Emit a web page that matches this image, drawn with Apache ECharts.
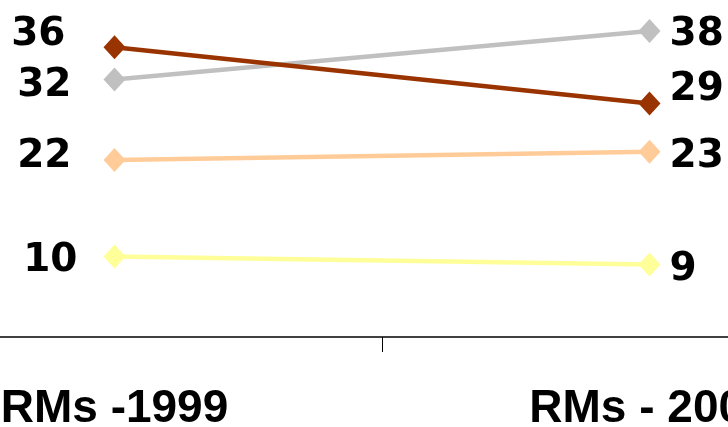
<!DOCTYPE html>
<html>
<head>
<meta charset="utf-8">
<script src="https://cdn.jsdelivr.net/npm/echarts@6/dist/echarts.min.js"></script>
<style>
html,body{margin:0;padding:0;background:#fff;}
#chart{width:728px;height:427px;}
</style>
</head>
<body>
<div id="chart"></div>
<script>
// Data
const categories = ['RMs -1999', 'RMs - 2002'];
const seriesNames = ['Series A', 'Series B', 'Series C', 'Series D'];
const seriesA = [36, 29];
const seriesB = [32, 38];
const seriesC = [22, 23];
const seriesD = [10, 9];

// Styles (kept separate from data)
const colors = ['#993300', '#C0C0C0', '#FFCC99', '#FFFF99'];
const labelPlacement = [
  { left: { distance: 38, dy: -12 }, right: { distance: 9, dy: -14 } },
  { left: { distance: 32, dy: 6 },   right: { distance: 9, dy: 4 } },
  { left: { distance: 32, dy: -3 },  right: { distance: 9, dy: 5 } },
  { left: { distance: 26, dy: 4 },   right: { distance: 9, dy: 5 } }
];
const FONT = "'Liberation Sans', Arial, sans-serif";
const LABEL_FONT = "'DejaVu Sans', 'Liberation Sans', sans-serif";

const allValues = [seriesA, seriesB, seriesC, seriesD];

const chart = echarts.init(document.getElementById('chart'), null, { renderer: 'canvas' });

const series = allValues.map((vals, s) => ({
  name: seriesNames[s],
  type: 'line',
  symbol: 'diamond',
  symbolSize: [22, 24],
  lineStyle: { color: colors[s], width: 4.5 },
  itemStyle: { color: colors[s] },
  z: 10 - s,
  data: vals.map((v, i) => {
    const p = i === 0 ? labelPlacement[s].left : labelPlacement[s].right;
    return {
      value: v,
      label: {
        show: true,
        position: i === 0 ? 'left' : 'right',
        distance: p.distance,
        offset: [0, p.dy],
        color: '#000',
        fontSize: 39,
        fontWeight: 'bold',
        fontFamily: LABEL_FONT
      }
    };
  })
}));

chart.setOption({
  animation: false,
  backgroundColor: '#fff',
  grid: { left: -153, width: 1070, top: 15, bottom: 90, containLabel: false, outerBoundsMode: 'none' },
  xAxis: {
    type: 'category',
    data: categories,
    boundaryGap: true,
    axisLine: { show: true, lineStyle: { color: '#000', width: 1.5 } },
    axisTick: { show: true, length: 15, lineStyle: { color: '#000', width: 1 } },
    axisLabel: {
      color: '#000',
      fontSize: 46,
      fontWeight: 'bold',
      fontFamily: FONT,
      margin: 49
    },
    splitLine: { show: false }
  },
  yAxis: {
    type: 'value',
    min: 0,
    max: 40,
    show: false
  },
  series: series
});
</script>
</body>
</html>
